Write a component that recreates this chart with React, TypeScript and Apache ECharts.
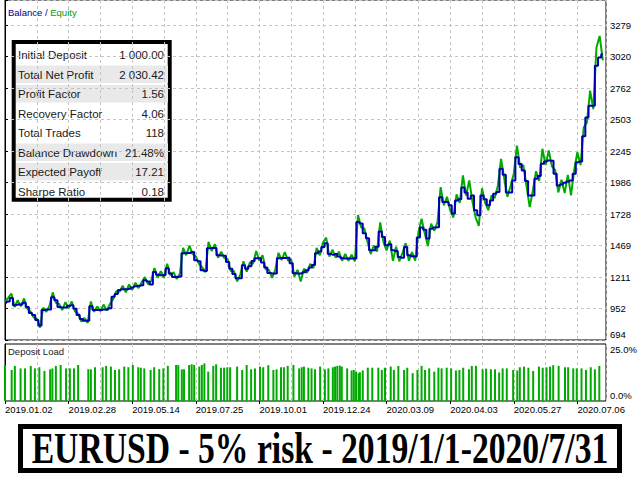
import React, { useEffect, useRef } from 'react';
import * as echarts from 'echarts';

// ---- axis constants ----
const Y_BASE = 694;
const Y_STEP = 258.5;
const X_MAX = 189;

// x tick labels, one every 20 units (0, 20, ..., 180)
const dateLabels = [
  '2019.01.02', '2019.02.28', '2019.05.14', '2019.07.25', '2019.10.01',
  '2019.12.24', '2020.03.09', '2020.04.03', '2020.05.27', '2020.07.06',
];

// balance per x unit (0..188)
const balance = [
  1000, 1010, 1038, 980, 985, 985, 1000, 964, 915, 899,
  858, 813, 940, 945, 945, 1045, 1020, 964, 960, 960,
  975, 980, 950, 899, 866, 852, 852, 972, 940, 940,
  940, 945, 945, 955, 1049, 1071, 1104, 1110, 1110, 1115,
  1125, 1135, 1140, 1144, 1185, 1175, 1150, 1253, 1230, 1225,
  1228, 1284, 1240, 1212, 1212, 1215, 1406, 1409, 1409, 1417,
  1349, 1340, 1267, 1260, 1447, 1450, 1450, 1390, 1388, 1385,
  1335, 1280, 1235, 1202, 1202, 1308, 1280, 1300, 1343, 1365,
  1365, 1330, 1290, 1245, 1240, 1240, 1365, 1368, 1368, 1370,
  1325, 1243, 1240, 1240, 1250, 1267, 1290, 1310, 1406, 1420,
  1458, 1488, 1400, 1395, 1400, 1380, 1365, 1363, 1363, 1363,
  1363, 1663, 1650, 1570, 1530, 1431, 1431, 1460, 1585, 1540,
  1472, 1480, 1431, 1425, 1376, 1370, 1458, 1390, 1382, 1380,
  1535, 1617, 1600, 1527, 1608, 1617, 1620, 1867, 1827, 1827,
  1800, 1732, 1840, 1850, 1947, 1906, 1853, 1880, 1760, 1718,
  1881, 1850, 1800, 1840, 1895, 1910, 2100, 2050, 1906, 1906,
  2004, 2195, 2140, 2086, 2000, 1881, 1881, 2018, 2040, 2141,
  2160, 2168, 2165, 2060, 1963, 1970, 1985, 1995, 2004, 2060,
  2154, 2160, 2368, 2522, 2618, 2618, 2946, 3014, 3041,
];

// equity per x unit (0..188)
const equity = [
  1010, 1040, 1075, 965, 1020, 970, 1035, 950, 930, 880,
  870, 795, 960, 925, 975, 1085, 1000, 990, 940, 1005,
  955, 1010, 930, 910, 845, 875, 835, 1010, 925, 970,
  930, 985, 935, 990, 1030, 1095, 1090, 1140, 1085, 1150,
  1105, 1165, 1120, 1170, 1210, 1150, 1180, 1285, 1205, 1260,
  1205, 1320, 1225, 1250, 1195, 1240, 1450, 1390, 1470, 1400,
  1380, 1320, 1290, 1250, 1500, 1425, 1480, 1370, 1420, 1365,
  1360, 1260, 1260, 1175, 1230, 1340, 1255, 1330, 1320, 1425,
  1345, 1390, 1275, 1270, 1205, 1270, 1410, 1350, 1415, 1345,
  1355, 1215, 1270, 1175, 1280, 1245, 1320, 1285, 1450, 1390,
  1495, 1535, 1380, 1435, 1370, 1420, 1345, 1400, 1345, 1395,
  1340, 1720, 1620, 1610, 1500, 1400, 1470, 1420, 1660, 1500,
  1430, 1510, 1345, 1460, 1340, 1410, 1490, 1345, 1415, 1345,
  1580, 1690, 1570, 1465, 1650, 1590, 1660, 1950, 1800, 1870,
  1760, 1700, 1890, 1820, 2045, 1880, 2005, 1830, 1700, 1630,
  1940, 1820, 1760, 1880, 1860, 1960, 2182, 2020, 1870, 1960,
  2060, 2290, 2110, 2130, 1960, 1785, 1920, 2080, 2000, 2264,
  2130, 2250, 2120, 2090, 1906, 2010, 1900, 2050, 1881, 2090,
  2236, 2130, 2440, 2480, 2741, 2590, 3096, 3191, 2990,
];

// deposit load bars: positions (x units) and load (%)
const loadPos = [
  0, 2.1, 3.1, 4.9, 6.3, 8.1, 9.4, 10.8, 12.4, 14.2,
  14.9, 16, 17.5, 19.2, 20.4, 21.7, 23, 26.2, 27, 28.3,
  30.7, 31.8, 33.3, 34.6, 35.9, 37.5, 38.8, 40.2, 41.9, 42.7,
  43.8, 45.8, 46.9, 48.5, 49.8, 51.2, 53.8, 54.5, 55.6, 56.3,
  57.9, 58.7, 59.5, 61.1, 61.9, 62.7, 63.9, 65.5, 66.4, 67.9,
  68.9, 69.9, 70.8, 73, 74.6, 76, 77.4, 78.6, 80.2, 81.2,
  82.8, 84.4, 85.4, 86.8, 87.7, 88.9, 90.7, 92.5, 93.3, 94,
  95.4, 96.4, 97.5, 99.1, 100.6, 101.7, 103.1, 103.8, 104.5, 105.3,
  105.9, 107.6, 109, 109.7, 110.4, 111.2, 111.6, 112.5, 114.1, 115.5,
  117.4, 118.5, 119.5, 121.3, 122.3, 123.7, 125.5, 126.5, 128.2, 129.7,
  131, 132.1, 133.4, 135, 136.3, 137.3, 138.9, 140.3, 141.8, 142.9,
  144.1, 145.9, 146.8, 148.1, 150.2, 151.3, 152.8, 154.1, 155.4, 156.5,
  157.8, 159.8, 161.1, 161.9, 163.2, 164.6, 166.1, 167.9, 169.1, 170.3,
  171.4, 172.4, 174.1, 176.1, 177.1, 178.7, 179.8, 181.3, 182.7, 184.2,
  185.5, 186.9,
];
const loadPct = [
  15.8, 13.6, 15.4, 14.3, 14.3, 15.4, 14.3, 14.8, 13.2, 13.9,
  14.3, 15.4, 15.8, 14.3, 14.3, 14.3, 15.8, 13.9, 13.9, 14.8,
  14.8, 15.4, 15.1, 13.6, 13.9, 15.1, 14.8, 15.8, 14.8, 14.6,
  14.3, 13.6, 14.8, 14.0, 14.3, 15.4, 15.8, 15.7, 13.9, 13.9,
  15.8, 16.1, 15.8, 15.1, 15.8, 16.5, 12.9, 15.4, 16.1, 14.6,
  14.6, 14.8, 14.8, 15.1, 13.6, 15.8, 13.9, 14.3, 15.1, 14.8,
  15.7, 13.6, 13.9, 14.8, 14.8, 15.4, 15.8, 14.3, 14.8, 15.1,
  14.6, 14.3, 13.9, 15.1, 13.9, 14.3, 14.8, 15.1, 15.4, 15.5,
  15.1, 14.3, 13.4, 13.6, 12.9, 12.2, 12.6, 13.4, 14.6, 14.6,
  14.6, 13.6, 14.6, 15.1, 13.6, 15.4, 13.6, 14.6, 12.2, 13.6,
  15.4, 13.6, 14.3, 12.9, 14.6, 14.3, 14.6, 14.3, 13.4, 13.6,
  14.6, 13.9, 15.4, 15.4, 13.9, 14.2, 13.9, 13.9, 12.5, 14.3,
  14.3, 13.6, 13.4, 14.8, 15.1, 14.6, 13.2, 15.1, 14.6, 14.8,
  15.1, 15.7, 15.4, 14.8, 14.8, 14.3, 14.3, 14.3, 13.6, 14.8,
  13.9, 15.4,
];

// statistics table
const statLabels = [
  'Initial Deposit', 'Total Net Profit', 'Profit Factor', 'Recovery Factor',
  'Total Trades', 'Balance Drawdown', 'Expected Payoff', 'Sharpe Ratio',
];
const statValues = ['1 000.00', '2 030.42', '1.56', '4.06', '118', '21.48%', '17.21', '0.18'];
const statShaded = [false, true, true, false, false, true, true, false];

const TITLE = 'EURUSD - 5% risk - 2019/1/1-2020/7/31';

const UI_FONT = "'Liberation Sans', Arial, sans-serif";
const GREEN = '#00aa00';
const BLUE = '#0000b0';
const GRID_LINE = { color: '#c4c4c4', width: 1, type: [3, 3] as number[] };

function buildOption() {
  const statChildren: any[] = [];
  statLabels.forEach((lab, i) => {
    const cy = 55 + 19.5 * i;
    if (statShaded[i]) {
      statChildren.push({
        type: 'rect',
        shape: { x: 16, y: cy - 9, width: 152, height: 17.5 },
        style: { fill: '#e9e9e9' },
      });
    }
    statChildren.push({
      type: 'text',
      x: 18,
      y: cy,
      style: { text: lab, font: `11.5px ${UI_FONT}`, fill: '#1a1a1a', textAlign: 'left', textVerticalAlign: 'middle' },
    });
    statChildren.push({
      type: 'text',
      x: 164,
      y: cy,
      style: { text: statValues[i], font: `11.5px ${UI_FONT}`, fill: '#1a1a1a', textAlign: 'right', textVerticalAlign: 'middle' },
    });
  });

  return {
    animation: false,
    backgroundColor: '#ffffff',
    grid: [
      { left: 5, top: -1, width: 601, height: 341, show: true, borderColor: '#000', borderWidth: 1, backgroundColor: 'transparent' },
      { left: 5, top: 344, width: 601, height: 57, show: true, borderColor: '#000', borderWidth: 1, backgroundColor: 'transparent' },
    ],
    xAxis: [
      {
        gridIndex: 0, type: 'value', min: 0, max: X_MAX, interval: 10,
        axisLine: { show: false }, axisTick: { show: false }, axisLabel: { show: false },
        splitLine: { show: true, lineStyle: GRID_LINE },
      },
      {
        gridIndex: 1, type: 'value', min: 0, max: X_MAX, interval: 20, position: 'bottom',
        axisLine: { show: false },
        axisTick: { show: true, length: 3, lineStyle: { color: '#000' } },
        axisLabel: {
          show: true, align: 'left', margin: 3, fontSize: 9.5, color: '#000', fontFamily: UI_FONT,
          showMaxLabel: false,
          formatter: (v: number) => {
            const k = Math.round(v / 20);
            return Math.abs(v - k * 20) < 1e-6 && dateLabels[k] ? dateLabels[k] : '';
          },
        },
        splitLine: { show: false },
      },
      {
        gridIndex: 1, type: 'value', min: 0, max: X_MAX, interval: 10, position: 'top',
        axisLine: { show: false }, axisTick: { show: false }, axisLabel: { show: false },
        splitLine: { show: true, lineStyle: GRID_LINE },
      },
    ],
    yAxis: [
      {
        gridIndex: 0, type: 'value', position: 'right', min: 0, max: 2792, interval: Y_STEP,
        axisLine: { show: true, lineStyle: { color: '#000' } },
        axisTick: { show: true, length: 3, lineStyle: { color: '#000' } },
        axisLabel: {
          margin: 4, fontSize: 9.5, color: '#000', fontFamily: UI_FONT, lineHeight: 12,
          formatter: (v: number) => {
            const k = Math.round(v / Y_STEP);
            if (Math.abs(v - k * Y_STEP) > 0.01) return '';
            const s = String(Math.floor(Y_BASE + v));
            return k === 0 ? s + '\n' : s;
          },
        },
        splitLine: { show: true, lineStyle: GRID_LINE },
      },
      {
        gridIndex: 1, type: 'value', position: 'right', min: 0, max: 25, interval: 25,
        axisLine: { show: true, lineStyle: { color: '#000' } },
        axisTick: { show: false },
        axisLabel: {
          margin: 4, fontSize: 9.5, color: '#000', fontFamily: UI_FONT, lineHeight: 11,
          formatter: (v: number) => (v >= 25 ? '\n25.0%' : v === 0 ? '0.0%\n' : ''),
        },
        splitLine: { show: false },
      },
    ],
    series: [
      {
        type: 'line', name: 'Equity', xAxisIndex: 0, yAxisIndex: 0,
        data: equity.map((v, i) => [i, v - Y_BASE]),
        showSymbol: false, symbol: 'none',
        lineStyle: { color: GREEN, width: 2 },
        z: 2,
      },
      {
        type: 'line', name: 'Balance', xAxisIndex: 0, yAxisIndex: 0, step: 'middle',
        data: balance.map((v, i) => [i, v - Y_BASE]),
        showSymbol: false, symbol: 'none',
        lineStyle: { color: BLUE, width: 2 },
        z: 3,
      },
      {
        type: 'bar', name: 'Deposit Load', xAxisIndex: 1, yAxisIndex: 1,
        data: loadPos.map((p, i) => [p, loadPct[i]]),
        barWidth: 2,
        itemStyle: { color: GREEN },
      },
    ],
    graphic: [
      {
        type: 'text', left: 8, top: 7, z: 10,
        style: {
          text: '{b|Balance}{s| / }{e|Equity}',
          rich: {
            b: { fill: '#00008b', font: `9.5px ${UI_FONT}` },
            s: { fill: '#00008b', font: `9.5px ${UI_FONT}` },
            e: { fill: '#00a000', font: `9.5px ${UI_FONT}` },
          },
        },
      },
      {
        type: 'text', left: 8, top: 346, z: 10,
        style: { text: 'Deposit Load', fill: '#202020', font: `9.5px ${UI_FONT}` },
      },
      {
        type: 'group', z: 20,
        children: [
          { type: 'rect', shape: { x: 13.7, y: 42, width: 156, height: 157.7 }, style: { fill: '#ffffff', stroke: '#000', lineWidth: 4 } },
          ...statChildren,
        ],
      },
      {
        type: 'group', z: 20,
        children: [
          { type: 'rect', shape: { x: 20.5, y: 426.5, width: 599, height: 44 }, style: { fill: '#ffffff', stroke: '#000', lineWidth: 5 } },
          {
            type: 'text', x: 320, y: 447.5, scaleX: 0.765,
            style: {
              text: TITLE, font: `bold 44px 'Liberation Serif', 'Times New Roman', serif`,
              fill: '#000', textAlign: 'center', textVerticalAlign: 'middle',
            },
          },
        ],
      },
    ],
  };
}

export default function App() {
  const ref = useRef<HTMLDivElement>(null);
  useEffect(() => {
    document.body.style.margin = '0';
    const chart = echarts.init(ref.current as HTMLDivElement, null, { renderer: 'svg' });
    chart.setOption(buildOption() as any);
    return () => chart.dispose();
  }, []);
  return <div ref={ref} style={{ width: 640, height: 480 }} />;
}
